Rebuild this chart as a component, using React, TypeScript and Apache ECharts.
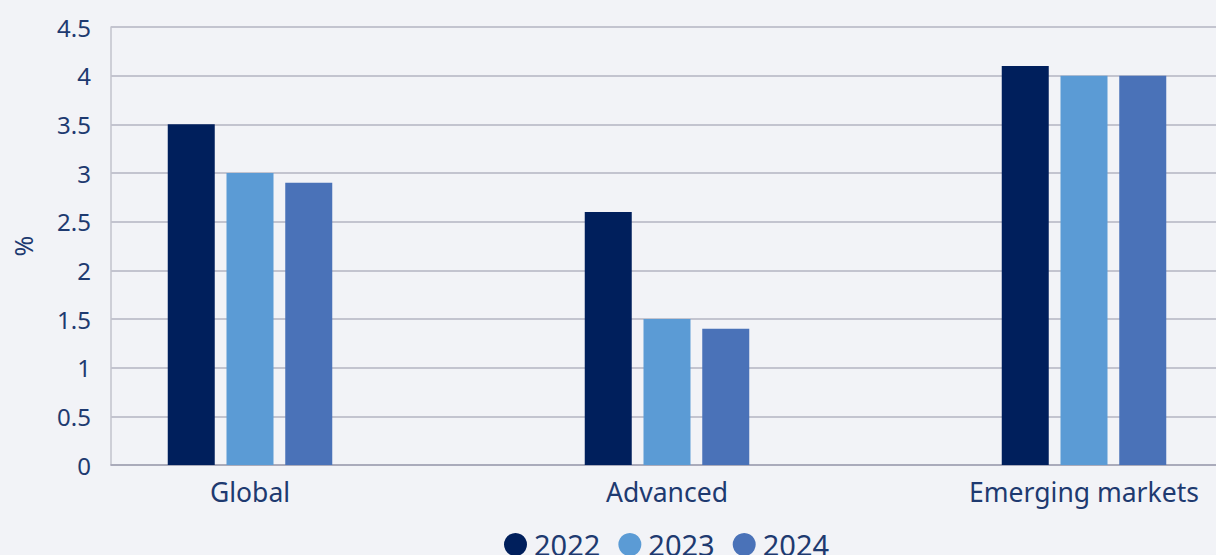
import React, { useEffect, useRef } from "react";
import * as echarts from "echarts";

const categories = ["Global", "Advanced", "Emerging markets"];
const seriesNames = ["2022", "2023", "2024"];
const values2022 = [3.5, 2.6, 4.1];
const values2023 = [3.0, 1.5, 4.0];
const values2024 = [2.9, 1.4, 4.0];
const colors = ["#001f5c", "#5b9bd5", "#4a72b8"];

const textColor = "#1e3a70";
const font = "Noto Sans";

export default function App() {
  const ref = useRef<HTMLDivElement>(null);
  useEffect(() => {
    if (!ref.current) return;
    const chart = echarts.init(ref.current, undefined, { renderer: "svg" });
    const allValues = [values2022, values2023, values2024];
    chart.setOption({
      animation: false,
      backgroundColor: "#f2f3f7",
      textStyle: { fontFamily: font, color: textColor },
      grid: [
        { left: 111, right: 0, top: 27, bottom: 90, outerBoundsMode: "none" },
        { left: 41.5, width: 1251, top: 27, bottom: 90, outerBoundsMode: "none" },
      ],
      legend: {
        data: seriesNames,
        left: 499,
        top: 525,
        icon: "circle",
        itemWidth: 23,
        itemHeight: 23,
        itemGap: 18,
        textStyle: { fontSize: 29, color: textColor, fontFamily: font, padding: [0, 0, 0, 2] },
      },
      xAxis: [
        {
          type: "category",
          gridIndex: 0,
          data: categories,
          axisLine: { show: true, lineStyle: { color: "#a2a3b4", width: 1.5 } },
          axisTick: { show: false },
          axisLabel: { show: false },
        },
        {
          type: "category",
          gridIndex: 1,
          data: categories,
          axisLine: { show: false },
          axisTick: { show: false },
          axisLabel: { fontSize: 26.5, color: textColor, fontFamily: font, margin: 13 },
        },
      ],
      yAxis: [
        {
          type: "value",
          gridIndex: 0,
          min: 0,
          max: 4.5,
          interval: 0.5,
          name: "%",
          nameLocation: "middle",
          nameRotate: 90,
          nameGap: 76,
          nameTextStyle: { fontSize: 25, color: textColor, fontFamily: font },
          axisLine: { show: true, lineStyle: { color: "#c2c3cc", width: 1.5 } },
          axisTick: { show: false },
          axisLabel: { fontSize: 24, color: textColor, fontFamily: font, margin: 20 },
          splitLine: { show: true, lineStyle: { color: "#b3b4c2", width: 1.5 } },
        },
        {
          type: "value",
          gridIndex: 1,
          min: 0,
          max: 4.5,
          interval: 0.5,
          show: false,
          splitLine: { show: false },
        },
      ],
      series: seriesNames.map((name, i) => ({
        name,
        type: "bar",
        xAxisIndex: 1,
        yAxisIndex: 1,
        data: allValues[i],
        barWidth: 47,
        barGap: "25%",
        itemStyle: { color: colors[i] },
      })),
    });
    return () => chart.dispose();
  }, []);
  return (
    <div
      ref={ref}
      style={{ position: "fixed", left: 0, top: 0, width: 1216, height: 555 }}
    />
  );
}
